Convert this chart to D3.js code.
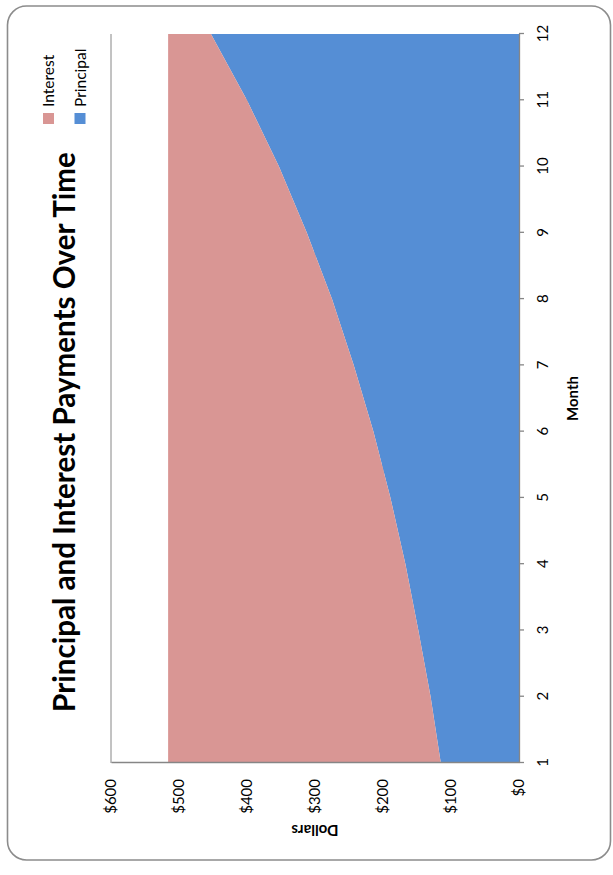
<!DOCTYPE html>
<html>
<head>
<meta charset="utf-8">
<script src="https://cdn.jsdelivr.net/npm/d3@7"></script>
<style>
  html, body { margin: 0; padding: 0; background: #fff; }
  svg { display: block; }
  text { font-family: Lato, "Open Sans", sans-serif; fill: #000; }
</style>
</head>
<body>
<svg id="chart" width="613" height="875"></svg>
<script>
// ---- data ----
const months = [1, 2, 3, 4, 5, 6, 7, 8, 9, 10, 11, 12];
const principal = [115, 130, 148, 167, 189, 214, 243, 275, 312, 353, 400, 453];
const interest  = [401, 386, 368, 349, 327, 302, 273, 241, 204, 163, 116, 63];
const valueTicks = [0, 100, 200, 300, 400, 500, 600];
const seriesNames = ["Principal", "Interest"];
const legendOrder = ["Interest", "Principal"];
const titleText = "Principal and Interest Payments Over Time";
const xTitle = "Month";
const yTitle = "Dollars";

// ---- styles ----
const colors = { Principal: "#558ED5", Interest: "#D99694" };
const lineColor = "#868686";

const svg = d3.select("#chart");
// the whole chart is drawn in a 875x613 frame and rotated a quarter turn counter-clockwise
const g = svg.append("g").attr("transform", `translate(0,${875}) rotate(-90)`);

// outer rounded border
g.append("rect")
  .attr("x", 15).attr("y", 7.5).attr("width", 854).attr("height", 603)
  .attr("rx", 19).attr("ry", 19)
  .attr("fill", "#fff").attr("stroke", "#8c8c8c").attr("stroke-width", 1.6);

const x = d3.scaleLinear().domain([1, 12]).range([112, 841]);
const y = d3.scaleLinear().domain([0, 600]).range([519, 111]);

// gridlines
g.append("g").selectAll("line").data(valueTicks.filter(d => d > 0)).join("line")
  .attr("x1", x(1)).attr("x2", x(12))
  .attr("y1", d => y(d)).attr("y2", d => y(d))
  .attr("stroke", lineColor).attr("stroke-width", 1);

// stacked areas
const rows = months.map((m, i) => ({ month: m, Principal: principal[i], Interest: interest[i] }));
const stack = d3.stack().keys(seriesNames)(rows);
const area = d3.area()
  .x(d => x(d.data.month))
  .y0(d => y(d[0]))
  .y1(d => y(d[1]));
g.append("g").selectAll("path").data(stack).join("path")
  .attr("d", area)
  .attr("fill", d => colors[d.key]);

// axes
const xAxis = d3.axisBottom(x).tickValues(months).tickSize(5).tickSizeOuter(0).tickPadding(13);
const xg = g.append("g").attr("transform", `translate(0,${y(0)})`).call(xAxis);
xg.select(".domain").attr("stroke", lineColor).attr("stroke-width", 1.3);
xg.selectAll(".tick line").attr("stroke", lineColor).attr("stroke-width", 1.3);
xg.selectAll("text").attr("font-size", 15).attr("font-family", "Lato, sans-serif").attr("fill", "#000");

const yAxis = d3.axisLeft(y).tickValues(valueTicks).tickSize(0).tickPadding(16).tickFormat(d => "$" + d);
const yg = g.append("g").attr("transform", `translate(${x(1)},0)`).call(yAxis);
yg.select(".domain").attr("stroke", lineColor).attr("stroke-width", 1.3);
yg.selectAll("text").attr("font-size", 15).attr("font-family", "Lato, sans-serif").attr("fill", "#000");

// title
const title = g.append("text")
  .attr("x", 443).attr("y", 75)
  .attr("text-anchor", "middle")
  .attr("font-weight", "bold")
  .attr("font-size", 28)
  .text(titleText);
const tw = title.node().getComputedTextLength();
title.attr("font-size", 28 * 560 / tw);

// axis titles
g.append("text")
  .attr("x", (x(1) + x(12)) / 2).attr("y", 578)
  .attr("text-anchor", "middle").attr("font-weight", "bold").attr("font-size", 15)
  .text(xTitle);
g.append("text")
  .attr("transform", `translate(50,${(y(0) + y(600)) / 2}) rotate(-90)`)
  .attr("text-anchor", "middle").attr("font-weight", "bold").attr("font-size", 15)
  .text(yTitle);

// legend
const leg = g.append("g").selectAll("g").data(legendOrder).join("g")
  .attr("transform", (d, i) => `translate(751,${48.5 + i * 31.5})`);
leg.append("rect").attr("x", 0).attr("y", -5.5).attr("width", 11).attr("height", 11)
  .attr("fill", d => colors[d]);
leg.append("text").attr("x", 17).attr("y", 5.5).attr("font-size", 15.5).text(d => d);
</script>
</body>
</html>
